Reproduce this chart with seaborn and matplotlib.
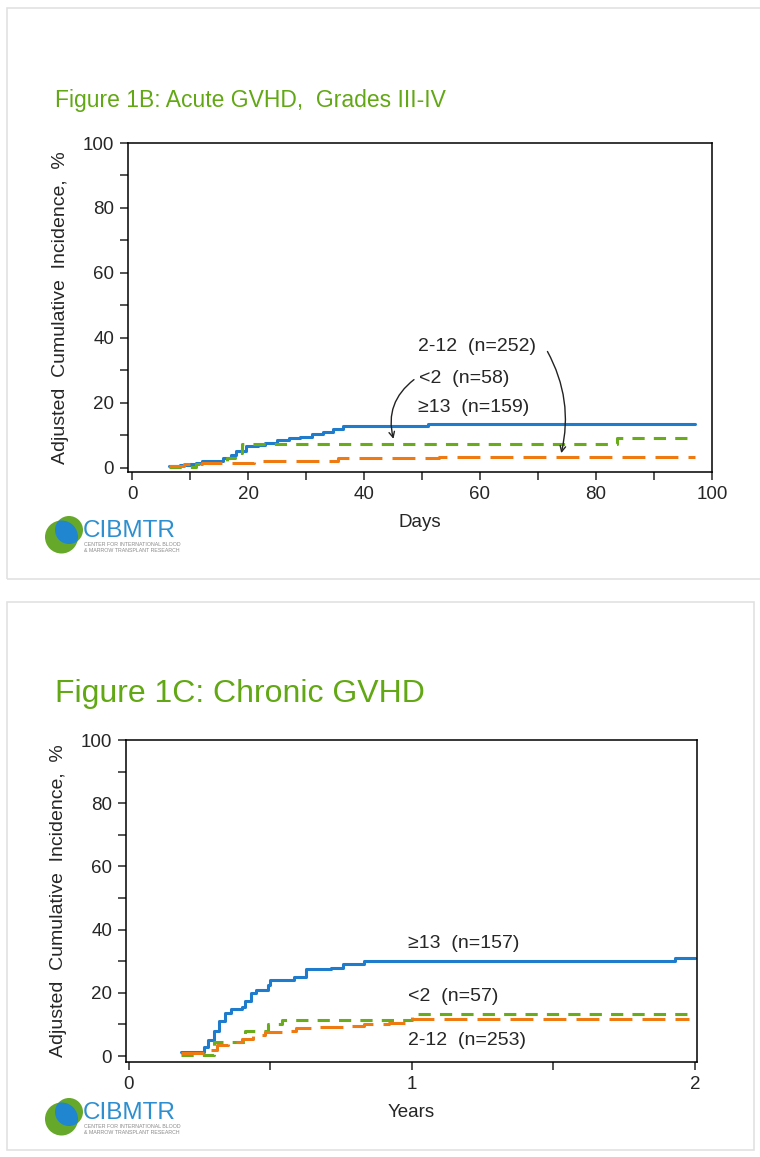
import numpy as np
import pandas as pd
import seaborn as sns
import matplotlib.pyplot as plt
from matplotlib.patches import Circle, Rectangle
from matplotlib.ticker import MultipleLocator

# Figure 1B: acute GVHD grades III-IV, days
acute_blue_days = [6.3, 8.3, 10, 11, 12, 15.7, 17, 18, 19.7, 21.7, 23, 25, 27, 29, 31, 33, 34.7, 36.3, 51, 97]
acute_blue_vals = [0.5, 0.8, 1.0, 1.5, 2.0, 3.0, 4.0, 5.0, 6.5, 7.0, 7.5, 8.5, 9.0, 9.5, 10.3, 11.0, 12.0, 12.8, 13.5, 13.5]
acute_green_days = [6.3, 11, 12, 16.3, 17.7, 19, 83.7, 96.3]
acute_green_vals = [0.3, 1.0, 1.5, 3.0, 4.5, 7.3, 9.1, 9.1]
acute_orange_days = [6.3, 9, 12, 21, 35.5, 53, 97]
acute_orange_vals = [0.6, 1.0, 1.5, 2.0, 2.9, 3.3, 3.3]

# Figure 1C: chronic GVHD, years
chronic_blue_years = [0.184, 0.265, 0.279, 0.30, 0.32, 0.34, 0.36, 0.40, 0.41, 0.43, 0.45, 0.49, 0.50, 0.585, 0.625, 0.715, 0.755, 0.83, 1.93, 2.0]
chronic_blue_vals = [1.4, 3.0, 5.0, 8.0, 11.0, 13.5, 15.0, 15.5, 17.5, 20.0, 21.0, 22.5, 24.0, 25.0, 27.5, 28.0, 29.0, 30.0, 31.0, 31.0]
chronic_green_years = [0.184, 0.30, 0.41, 0.49, 0.54, 1.0, 2.0]
chronic_green_vals = [0.4, 4.5, 8.0, 10.0, 11.4, 13.3, 13.3]
chronic_orange_years = [0.184, 0.265, 0.31, 0.35, 0.40, 0.44, 0.48, 0.54, 0.59, 0.67, 0.76, 0.83, 0.92, 1.0, 1.98]
chronic_orange_vals = [0.8, 2.0, 3.5, 4.5, 5.5, 6.5, 7.5, 8.0, 8.8, 9.3, 9.5, 10.0, 10.5, 11.8, 11.8]

groups = ['>=13', '<2', '2-12']
colors = {'>=13': '#1f7ccc', '<2': '#6aab1c', '2-12': '#f07a12'}
dashes = {'>=13': '', '<2': (4, 3), '2-12': (7.5, 3.3)}

green_title = '#62a814'

sns.set_style('ticks')
plt.rcParams['font.family'] = ['Liberation Sans', 'DejaVu Sans']
plt.rcParams['axes.linewidth'] = 1.1


def to_long(parts):
    frames = []
    for g, x, y in parts:
        frames.append(pd.DataFrame({'t': x, 'v': y, 'group': g}))
    return pd.concat(frames, ignore_index=True)


acute = to_long([('>=13', acute_blue_days, acute_blue_vals),
                 ('<2', acute_green_days, acute_green_vals),
                 ('2-12', acute_orange_days, acute_orange_vals)])
chronic = to_long([('>=13', chronic_blue_years, chronic_blue_vals),
                   ('<2', chronic_green_years, chronic_green_vals),
                   ('2-12', chronic_orange_years, chronic_orange_vals)])

fig = plt.figure(figsize=(7.6, 11.57), dpi=100)

# panel frames
for y0, h, w in [(0.5, 0.4935, 0.995), (0.006, 0.474, 0.983)]:
    fig.patches.append(Rectangle((0.009, y0), w, h, transform=fig.transFigure,
                                 fill=False, edgecolor='#e2e2e2', lw=1.2))


def draw_panel(ax, data, xlim, ylim, xmajor, xminor, xlabel):
    sns.lineplot(data=data, x='t', y='v', hue='group', style='group',
                 hue_order=groups, style_order=groups, palette=colors,
                 dashes=dashes, drawstyle='steps-post', lw=2.2,
                 legend=False, ax=ax, sort=False, estimator=None)
    ax.set_xlim(*xlim)
    ax.set_ylim(*ylim)
    ax.xaxis.set_major_locator(MultipleLocator(xmajor))
    ax.xaxis.set_minor_locator(MultipleLocator(xminor))
    ax.yaxis.set_major_locator(MultipleLocator(20))
    ax.yaxis.set_minor_locator(MultipleLocator(10))
    ax.tick_params(which='both', direction='out', length=6, width=1.1, labelsize=13.5, pad=4)
    for sp in ax.spines.values():
        sp.set_visible(True)
        sp.set_color('black')
    ax.set_xlabel(xlabel, fontsize=13.5, labelpad=8)
    ax.set_ylabel('Adjusted  Cumulative  Incidence,  %', fontsize=14, labelpad=10)


ax1 = fig.add_axes([0.1684, 0.5920, 0.7684, 0.2844])
draw_panel(ax1, acute, (-0.7, 100), (-1.4, 100), 20, 10, 'Days')
ax1.text(49.3, 37.4, '2-12  (n=252)', fontsize=14, va='center')
ax1.text(49.5, 27.4, '<2  (n=58)', fontsize=14, va='center')
ax1.text(49.3, 18.6, '\u226513  (n=159)', fontsize=14, va='center')
ax1.annotate('', xy=(45.2, 8.0), xytext=(49.0, 27.6),
             arrowprops=dict(arrowstyle='->', color='#222222', lw=1.0,
                             connectionstyle='arc3,rad=0.35'))
ax1.annotate('', xy=(73.9, 3.6), xytext=(71.4, 36.5),
             arrowprops=dict(arrowstyle='->', color='#222222', lw=1.0,
                             connectionstyle='arc3,rad=-0.2'))

ax2 = fig.add_axes([0.1658, 0.0821, 0.7513, 0.2783])
draw_panel(ax2, chronic, (-0.01, 2.007), (-1.9, 100), 1, 0.5, 'Years')
ax2.text(0.985, 35.6, '\u226513  (n=157)', fontsize=14, va='center')
ax2.text(0.985, 18.9, '<2  (n=57)', fontsize=14, va='center')
ax2.text(0.985, 5.0, '2-12  (n=253)', fontsize=14, va='center')

# titles
fig.text(55 / 760, 1 - 101 / 1157, 'Figure 1B: Acute GVHD,  Grades III-IV',
         color=green_title, fontsize=16.5, va='center', ha='left')
fig.text(55 / 760, 1 - 694 / 1157, 'Figure 1C: Chronic GVHD',
         color=green_title, fontsize=23, va='center', ha='left')


def draw_logo(cy):
    # cy: pixel y of logo text centre
    lax = fig.add_axes([0, 0, 1, 1], zorder=-1)
    lax.set_xlim(0, 760)
    lax.set_ylim(1157, 0)
    lax.set_axis_off()
    lax.set_aspect('equal')
    c1 = Circle((61.5, cy + 6), 16.5, color='#66a82a', lw=0)
    c2 = Circle((69, cy - 1), 14, color='#66a82a', lw=0)
    lax.add_patch(c1)
    lax.add_patch(c2)
    c3 = Circle((69, cy - 1), 14, color='#1f86cf', lw=0)
    lax.add_patch(c3)
    c3.set_clip_path(c1)
    lax.text(83, cy, 'CIBMTR', color='#2d8fcf', fontsize=17.5, va='center', ha='left')
    lax.text(84, cy + 14, 'CENTER FOR INTERNATIONAL BLOOD', color='#8a8a8a', fontsize=3.8,
             va='center', ha='left')
    lax.text(84, cy + 20, '& MARROW TRANSPLANT RESEARCH', color='#8a8a8a', fontsize=3.8,
             va='center', ha='left')


draw_logo(531)
draw_logo(1113)

plt.savefig('out.png', dpi=100)
